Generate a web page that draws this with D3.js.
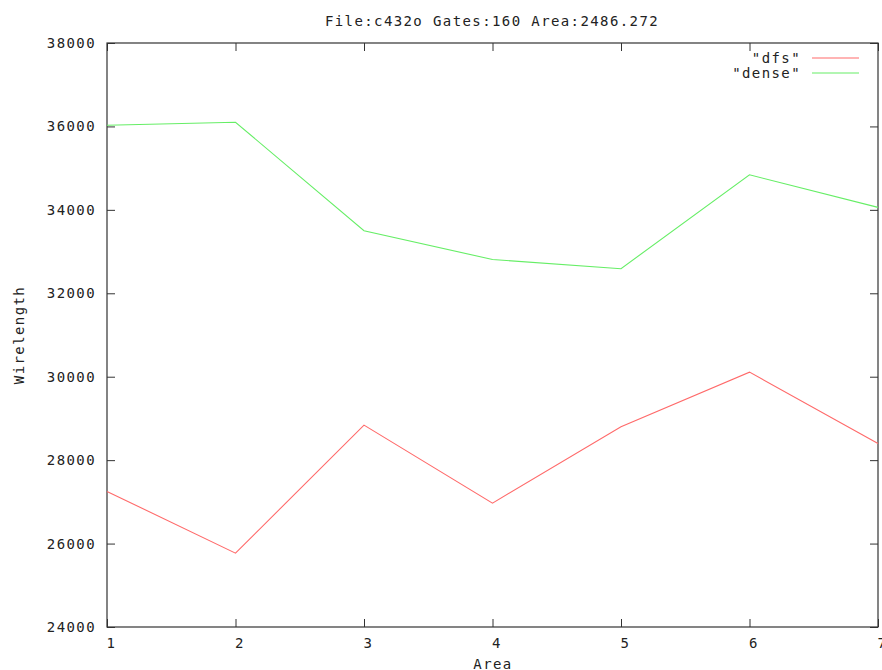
<!DOCTYPE html>
<html>
<head>
<meta charset="utf-8">
<script src="https://cdn.jsdelivr.net/npm/d3@7"></script>
<style>
  html, body { margin: 0; padding: 0; background: #fff; }
  svg text { font-family: "DejaVu Sans Mono", "Liberation Mono", monospace; font-size: 14px; fill: #222; letter-spacing: 1.4px; }
</style>
</head>
<body>
<svg id="chart" width="882" height="670"></svg>
<script>
// Wirelength per area step for the two placement strategies
const areas = [1, 2, 3, 4, 5, 6, 7];
const dfsValues = [27250, 25770, 28840, 26970, 28800, 30110, 28400];
const denseValues = [36030, 36100, 33500, 32810, 32590, 34840, 34060];
const seriesNames = ['"dfs"', '"dense"'];
const seriesColors = ["#ff6a6a", "#66ee66"];
const yTicks = [24000, 26000, 28000, 30000, 32000, 34000, 36000, 38000];
const xTicks = [1, 2, 3, 4, 5, 6, 7];
const titleText = "File:c432o Gates:160 Area:2486.272";

const svg = d3.select("#chart");
const plotLeft = 107, plotRight = 878, plotTop = 43, plotBottom = 627;

const x = d3.scaleLinear().domain([1, 7]).range([plotLeft, plotRight]);
const y = d3.scaleLinear().domain([24000, 38000]).range([plotBottom, plotTop]);

const axisColor = "#333";

// inward ticks on all four sides
function styleAxis(g) {
  g.select(".domain").remove();
  g.selectAll(".tick line").attr("stroke", axisColor);
}

svg.append("g").attr("transform", `translate(${plotLeft},0)`)
  .call(d3.axisLeft(y).tickValues(yTicks).tickSize(-8).tickPadding(11).tickFormat(d3.format("d")))
  .call(styleAxis)
  .selectAll("text").attr("font-family", null).attr("font-size", null);

svg.append("g").attr("transform", `translate(${plotRight},0)`)
  .call(d3.axisRight(y).tickValues(yTicks).tickSize(-8).tickFormat(""))
  .call(styleAxis);

svg.append("g").attr("transform", `translate(0,${plotBottom})`)
  .call(d3.axisBottom(x).tickValues(xTicks).tickSize(-8).tickPadding(11).tickFormat(d3.format("d")))
  .call(styleAxis)
  .selectAll("text").attr("font-family", null).attr("font-size", null).attr("dx", 4);

svg.append("g").attr("transform", `translate(0,${plotTop})`)
  .call(d3.axisTop(x).tickValues(xTicks).tickSize(-8).tickFormat(""))
  .call(styleAxis);

// plot frame
svg.append("rect")
  .attr("x", plotLeft).attr("y", plotTop)
  .attr("width", plotRight - plotLeft).attr("height", plotBottom - plotTop)
  .attr("fill", "none").attr("stroke", axisColor).attr("stroke-width", 1.2);

// series lines
const line = d3.line().x((d, i) => x(areas[i])).y(d => y(d));
[dfsValues, denseValues].forEach((vals, k) => {
  svg.append("path")
    .datum(vals)
    .attr("d", line)
    .attr("fill", "none")
    .attr("stroke", seriesColors[k])
    .attr("stroke-width", 1.1);
});

// legend
seriesNames.forEach((name, k) => {
  const ly = 58 + k * 15;
  svg.append("text")
    .attr("x", 801).attr("y", ly).attr("dy", "0.35em")
    .attr("text-anchor", "end").text(name);
  svg.append("line")
    .attr("x1", 812).attr("x2", 859).attr("y1", ly).attr("y2", ly)
    .attr("stroke", seriesColors[k]).attr("stroke-width", 1.1);
});

// title and axis labels
svg.append("text")
  .attr("x", 492).attr("y", 21).attr("dy", "0.35em")
  .attr("text-anchor", "middle").text(titleText);

svg.append("text")
  .attr("x", 493).attr("y", 664).attr("dy", "0.35em")
  .attr("text-anchor", "middle").text("Area");

svg.append("text")
  .attr("transform", "translate(19,335) rotate(-90)")
  .attr("dy", "0.35em")
  .attr("text-anchor", "middle").text("Wirelength");
</script>
</body>
</html>
